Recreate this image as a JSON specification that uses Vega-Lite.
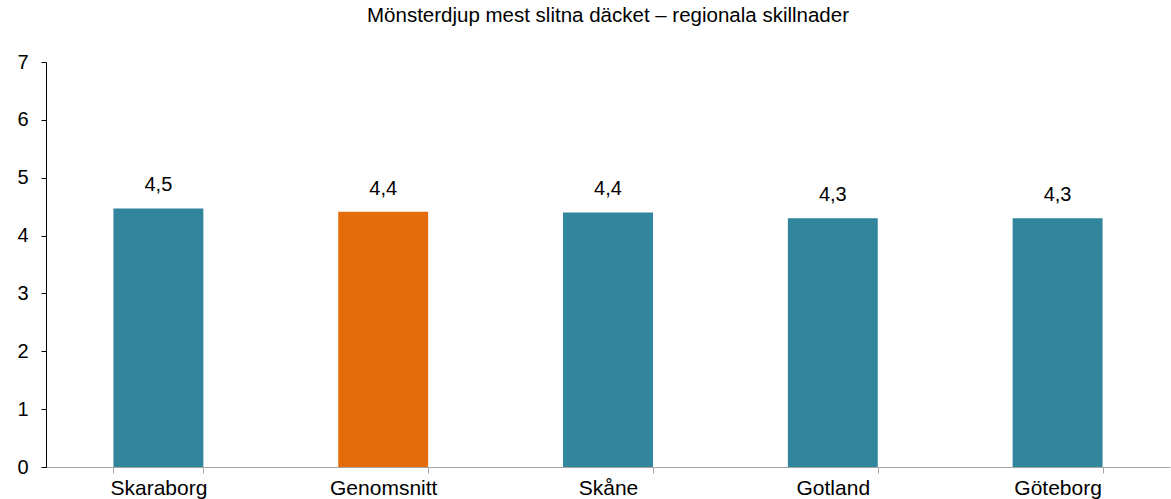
{
  "$schema": "https://vega.github.io/schema/vega-lite/v6.json",
  "width": 1124,
  "height": 405,
  "autosize": {"type": "none"},
  "padding": {"left": 46, "top": 62, "right": 1, "bottom": 32},
  "background": "white",
  "config": {
    "view": {"stroke": null},
    "font": "Liberation Sans",
    "locale": {"number": {"decimal": ",", "thousands": " ", "grouping": [3], "currency": ["", " kr"]}}
  },
  "title": {
    "text": "Mönsterdjup mest slitna däcket – regionala skillnader",
    "fontSize": 20.5,
    "fontWeight": "normal",
    "font": "Liberation Sans",
    "color": "#000000",
    "anchor": "middle",
    "offset": 26
  },
  "data": {
    "values": [
      {"region": "Skaraborg", "value": 4.47, "type": "region"},
      {"region": "Genomsnitt", "value": 4.41, "type": "average"},
      {"region": "Skåne", "value": 4.4, "type": "region"},
      {"region": "Gotland", "value": 4.3, "type": "region"},
      {"region": "Göteborg", "value": 4.3, "type": "region"}
    ]
  },
  "encoding": {
    "x": {
      "field": "region",
      "type": "nominal",
      "sort": null,
      "scale": {"paddingInner": 0.6, "paddingOuter": 0.3},
      "axis": {
        "title": null,
        "labelAngle": 0,
        "labelFontSize": 21,
        "labelColor": "#000000",
        "labelPadding": 4,
        "domainColor": "#a6a6a6",
        "tickColor": "#a6a6a6",
        "tickBand": "extent",
        "tickSize": 6
      }
    },
    "y": {
      "field": "value",
      "type": "quantitative",
      "scale": {"domain": [0, 7]},
      "axis": {
        "title": null,
        "values": [0, 1, 2, 3, 4, 5, 6, 7],
        "grid": false,
        "labelFontSize": 20,
        "labelColor": "#000000",
        "labelPadding": 13,
        "domainColor": "#000000",
        "tickColor": "#000000",
        "tickSize": 5,
        "format": "d"
      }
    }
  },
  "layer": [
    {
      "mark": {"type": "bar"},
      "encoding": {
        "color": {
          "field": "type",
          "type": "nominal",
          "scale": {"domain": ["region", "average"], "range": ["#31859c", "#e46c0a"]},
          "legend": null
        }
      }
    },
    {
      "mark": {"type": "text", "baseline": "alphabetic", "dy": -17, "fontSize": 20, "color": "#000000"},
      "encoding": {
        "text": {"field": "value", "type": "quantitative", "format": ".1f"}
      }
    }
  ]
}
